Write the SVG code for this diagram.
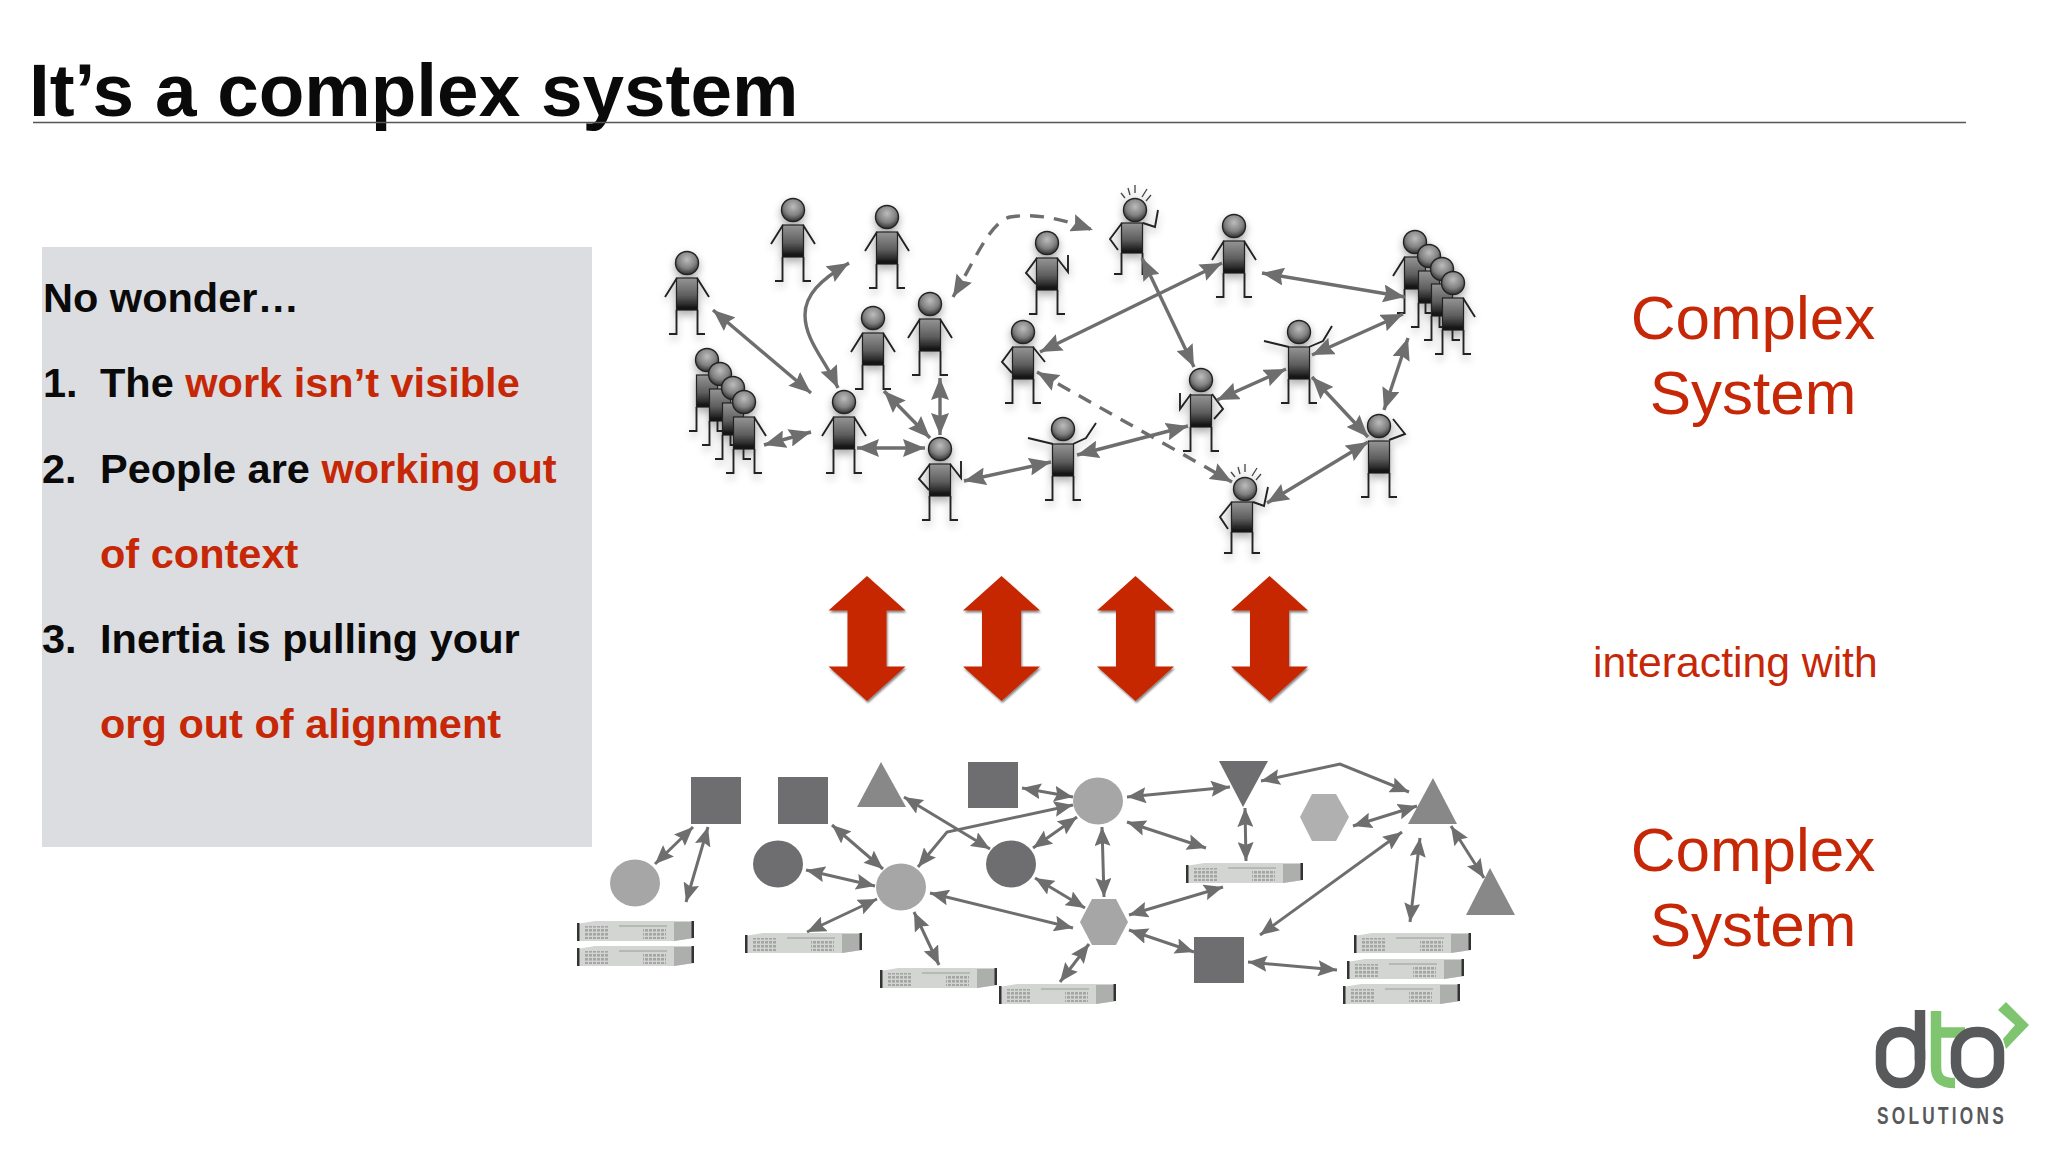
<svg xmlns="http://www.w3.org/2000/svg" width="2048" height="1152" viewBox="0 0 2048 1152">
<style>
text{font-family:"Liberation Sans",Arial,sans-serif}
.title{font-size:74.700px;font-weight:700;fill:#0a0a0a}
.pt{font-size:41.5px;font-weight:700;fill:#0a0a0a}
.r{fill:#c62706}
.big{font-size:62px;fill:#c62706;text-anchor:middle}
.mid{font-size:42.7px;fill:#c62706}
.c{fill:none;stroke:#6e6e6e;stroke-width:3.4;marker-start:url(#ah);marker-end:url(#ah)}
.d{stroke-dasharray:14 10;marker-start:url(#ah);marker-end:url(#ah)}
.b{fill:none;stroke:#6e6e6e;stroke-width:3;marker-start:url(#ab);marker-end:url(#ab)}
.l{fill:none;stroke:#222;stroke-width:1.9}
.sp{fill:none;stroke:#444;stroke-width:1.3}
.p{filter:url(#sh)}
.ra{fill:#c62706;filter:url(#rs)}
.dk{fill:#6e6e70}
.md{fill:#888889}
.lt{fill:#a6a6a7}
.hx{fill:#b0b0b1}
</style>
<defs>
<marker id="ah" markerUnits="userSpaceOnUse" markerWidth="23" markerHeight="18" refX="22" refY="9" orient="auto-start-reverse" viewBox="0 0 23 18"><path d="M0,0L22,9L0,18L3,9Z" fill="#6e6e6e"/></marker>
<marker id="ab" markerUnits="userSpaceOnUse" markerWidth="20" markerHeight="16" refX="19" refY="8" orient="auto-start-reverse" viewBox="0 0 20 16"><path d="M0,0L19,8L0,16L3,8Z" fill="#6e6e6e"/></marker>
<linearGradient id="gb" x1="0" y1="0" x2="0" y2="1"><stop offset="0" stop-color="#959595"/><stop offset=".55" stop-color="#5e5e5e"/><stop offset="1" stop-color="#0a0a0a"/></linearGradient>
<radialGradient id="gh" cx=".5" cy=".35" r=".65"><stop offset="0" stop-color="#bcbcbc"/><stop offset=".6" stop-color="#808080"/><stop offset="1" stop-color="#303030"/></radialGradient>
<filter id="sh" x="-40%" y="-20%" width="180%" height="150%"><feGaussianBlur in="SourceAlpha" stdDeviation="4"/><feOffset dy="4"/><feComponentTransfer><feFuncA type="linear" slope=".35"/></feComponentTransfer><feMerge><feMergeNode/><feMergeNode in="SourceGraphic"/></feMerge></filter>
<filter id="rs" x="-20%" y="-10%" width="140%" height="125%"><feGaussianBlur in="SourceAlpha" stdDeviation="1.2"/><feOffset dy="1.5" dx=".5"/><feComponentTransfer><feFuncA type="linear" slope=".5"/></feComponentTransfer><feMerge><feMergeNode/><feMergeNode in="SourceGraphic"/></feMerge></filter>
<circle id="hd" cx="0" cy="0" r="11.5" fill="url(#gh)" stroke="#222" stroke-width="1.4"/>
<g id="bd"><path class="l" d="M-18,71H-10.5V47M18,71H10.5V47"/><rect x="-10.5" y="15" width="21" height="32" fill="url(#gb)" stroke="#222" stroke-width="1.2"/></g>
<g id="bd2"><path class="l" d="M-18,64H-10.5V43M18,64H10.5V43"/><rect x="-10.5" y="13" width="21" height="30" fill="url(#gb)" stroke="#222" stroke-width="1.2"/></g>
<path id="an" class="l" d="M-10,15L-22,34M10,15L22,34"/>
<g id="sparks"><path class="sp" d="M-14,-17L-10,-12M-7,-22L-5,-15M0,-25V-17M12,-21L7,-13M16,-15L11,-9"/></g>
<pattern id="dots" width="4" height="4" patternUnits="userSpaceOnUse"><rect width="3" height="2.6" fill="#a3a6a3"/></pattern>
<g id="srv">
<path d="M0,3L18,0H117V17L97,20H0Z" fill="#d3d5d3"/>
<path d="M97,1H117V17L97,20Z" fill="#adafad"/>
<rect x="0" y="2" width="2.5" height="18" fill="#333"/>
<rect x="114.5" y="0" width="2.5" height="17" fill="#333"/>
<rect x="8" y="5" width="23" height="13" fill="url(#dots)"/>
<rect x="66" y="8" width="23" height="10" fill="url(#dots)"/>
<path d="M42,5H90" stroke="#9a9c9a" stroke-width="1"/>
</g>
<path id="dbl" d="M0,-62.500L38.500,-28H19.500V28H38.500L0,62.500L-38.500,28H-19.500V-28H-38.500Z"/>
</defs>
<rect width="2048" height="1152" fill="#fff"/>
<g id="title">
<text class="title" x="29" y="116">It’s a complex system</text>
<path d="M33,122.500H1966" stroke="#555" stroke-width="1.500"/>
</g>
<g id="panel">
<rect x="42" y="247" width="550" height="600" fill="#dcdde0"/>
<text class="pt" x="43" y="312">No wonder…</text>
<text class="pt" x="43" y="397">1.</text><text class="pt" x="100" y="397">The <tspan class="r">work isn’t visible</tspan></text>
<text class="pt" x="42" y="482.500">2.</text><text class="pt" x="100" y="482.500">People are <tspan class="r">working out</tspan></text>
<text class="pt r" x="100" y="567.500">of context</text>
<text class="pt" x="42" y="653">3.</text><text class="pt" x="100" y="653">Inertia is pulling your</text>
<text class="pt r" x="100" y="738">org out of alignment</text>
</g>
<g id="people">
<g id="person-1" class="p" transform="translate(687,263)"><use href="#bd"/><use href="#an"/><use href="#hd"/></g>
<g id="person-2" class="p" transform="translate(793,210)"><use href="#bd"/><use href="#an"/><use href="#hd"/></g>
<g id="person-3" class="p" transform="translate(887,217)"><use href="#bd"/><use href="#an"/><use href="#hd"/></g>
<g id="person-4" class="p" transform="translate(873,318)"><use href="#bd"/><use href="#an"/><use href="#hd"/></g>
<g id="person-5" class="p" transform="translate(930,304)"><use href="#bd"/><use href="#an"/><use href="#hd"/></g>
<g id="person-6" class="p" transform="translate(1047,243)"><use href="#bd"/><path class="l" d="M-10,15L-21,30L-11,41M10,15L21,29V12"/><use href="#hd"/></g>
<g id="person-7" class="p" transform="translate(1023,332)"><use href="#bd"/><path class="l" d="M-10,15L-21,30L-11,41M10,15L22,30"/><use href="#hd"/></g>
<g id="person-8" class="p" transform="translate(844,402)"><use href="#bd"/><use href="#an"/><use href="#hd"/></g>
<g id="person-9" class="p" transform="translate(940,449)"><use href="#bd"/><path class="l" d="M-10,15L-21,30L-11,41M10,15L21,29V12"/><use href="#hd"/></g>
<g id="crowd-left" class="p">
<g transform="translate(707,360)"><use href="#bd"/><use href="#hd"/></g>
<g transform="translate(720,374)"><use href="#bd"/><use href="#hd"/></g>
<g transform="translate(733,388)"><use href="#bd"/><use href="#hd"/></g>
<g transform="translate(744,402)"><use href="#bd"/><path class="l" d="M10,15L22,34"/><use href="#hd"/></g>
</g>
<g id="person-10" class="p" transform="translate(1132,210)"><use href="#bd2"/><path class="l" d="M-10,13L-22,29L-14,40M11,13L23,17L26,0"/><use href="#hd" x="3"/><use href="#sparks" x="3"/></g>
<g id="person-11" class="p" transform="translate(1234,226)"><use href="#bd"/><use href="#an"/><use href="#hd"/></g>
<g id="person-12" class="p" transform="translate(1299,332)"><use href="#bd"/><path class="l" d="M-10,15L-35,9M10,15L24,9L33,-6"/><use href="#hd"/></g>
<g id="person-13" class="p" transform="translate(1201,380)"><use href="#bd"/><path class="l" d="M-10,14L-21,29V13M11,14L22,29L13,39"/><use href="#hd"/></g>
<g id="person-14" class="p" transform="translate(1063,429)"><use href="#bd"/><path class="l" d="M-10,15L-35,9M10,15L23,9L33,-6"/><use href="#hd"/></g>
<g id="person-15" class="p" transform="translate(1379,426)"><use href="#bd"/><path class="l" d="M10,14L26,8L14,-7"/><use href="#hd"/></g>
<g id="person-16" class="p" transform="translate(1242,489)"><use href="#bd2"/><path class="l" d="M-10,13L-22,28L-14,40M11,13L22,17L26,-2"/><use href="#hd" x="3"/><use href="#sparks" x="3"/></g>
<g id="crowd-right" class="p">
<g transform="translate(1415,242)"><use href="#bd"/><path class="l" d="M-10,15L-22,34"/><use href="#hd"/></g>
<g transform="translate(1429,256)"><use href="#bd"/><use href="#hd"/></g>
<g transform="translate(1442,269)"><use href="#bd"/><use href="#hd"/></g>
<g transform="translate(1453,283)"><use href="#bd"/><path class="l" d="M10,15L22,34"/><use href="#hd"/></g>
</g>
</g>
<g id="people-connectors">
<path class="c" d="M713,310L811,393"/>
<path class="c" d="M849,263C820,280 805,295 805,315C805,340 825,360 838,388"/>
<path class="c" d="M764,445L811,432"/>
<path class="c" d="M857,448H925"/>
<path class="c" d="M884,391L930,438"/>
<path class="c" d="M940,378V435"/>
<path class="c" d="M964,481L1051,462"/>
<path class="c d" d="M953,297C975,260 990,222 1010,217C1040,212 1070,222 1093,230"/>
<path class="c" d="M1040,352L1222,263"/>
<path class="c" d="M1142,258L1194,367"/>
<path class="c" d="M1262,273L1405,297"/>
<path class="c" d="M1312,355L1403,314"/>
<path class="c" d="M1217,400L1286,369"/>
<path class="c" d="M1312,377L1368,437"/>
<path class="c" d="M1408,338L1384,410"/>
<path class="c" d="M1077,455L1188,426"/>
<path class="c" d="M1267,503L1368,442"/>
<path class="c d" d="M1037,372L1232,482"/>
</g>
<g id="interaction-arrows">
<use class="ra" href="#dbl" x="867" y="638.500"/>
<use class="ra" href="#dbl" x="1001.500" y="638.500"/>
<use class="ra" href="#dbl" x="1135.500" y="638.500"/>
<use class="ra" href="#dbl" x="1269.500" y="638.500"/>
</g>
<g id="labels">
<text class="big" x="1753" y="339">Complex</text>
<text class="big" x="1753" y="414">System</text>
<text class="mid" x="1593" y="677">interacting with</text>
<text class="big" x="1753" y="871">Complex</text>
<text class="big" x="1753" y="946">System</text>
</g>
<g id="systems">
<rect id="sq-1" class="dk" x="691" y="777" width="50" height="47"/>
<rect id="sq-2" class="dk" x="778" y="777" width="50" height="47"/>
<rect id="sq-3" class="dk" x="968" y="762" width="50" height="46"/>
<rect id="sq-4" class="dk" x="1194" y="937" width="50" height="46"/>
<path id="tri-1" class="md" d="M881,762L906,807H857Z"/>
<path id="tri-2" class="md" d="M1433,778L1457,824H1408Z"/>
<path id="tri-3" class="md" d="M1490,868L1515,915H1466Z"/>
<path id="tri-4" class="dk" d="M1219,761H1268L1243,807Z"/>
<ellipse id="ci-1" class="lt" cx="635" cy="883" rx="25" ry="23.500"/>
<ellipse id="ci-2" class="dk" cx="778" cy="864" rx="25" ry="23.500"/>
<ellipse id="ci-3" class="lt" cx="901" cy="887" rx="25" ry="23.500"/>
<ellipse id="ci-4" class="dk" cx="1011" cy="864" rx="25" ry="23.500"/>
<ellipse id="ci-5" class="lt" cx="1098" cy="801" rx="25" ry="23.500"/>
<path id="hex-1" class="hx" d="M1312,794H1336L1349,817L1336,841H1312L1300,817Z"/>
<path id="hex-2" class="lt" d="M1092,899H1116L1128,922L1116,945H1092L1080,922Z"/>
<use id="srv-1" href="#srv" x="577" y="921"/>
<use id="srv-2" href="#srv" x="577" y="946"/>
<use id="srv-3" href="#srv" x="745" y="933"/>
<use id="srv-4" href="#srv" x="880" y="968"/>
<use id="srv-5" href="#srv" x="999" y="984"/>
<use id="srv-6" href="#srv" x="1186" y="863"/>
<use id="srv-7" href="#srv" x="1354" y="933"/>
<use id="srv-8" href="#srv" x="1347" y="959"/>
<use id="srv-9" href="#srv" x="1343" y="984"/>
</g>
<g id="system-connectors">
<path class="b" d="M693,827L655,864"/>
<path class="b" d="M708,827L686,902"/>
<path class="b" d="M832,825L883,869"/>
<path class="b" d="M806,870L875,886"/>
<path class="b" d="M877,899L807,932"/>
<path class="b" d="M914,912L939,965"/>
<path class="b" d="M930,893L1073,928"/>
<path class="b" d="M904,797L990,849"/>
<path class="b" d="M918,867L947,832L1073,805"/>
<path class="b" d="M1022,788L1073,797"/>
<path class="b" d="M1033,848L1077,817"/>
<path class="b" d="M1035,878L1085,908"/>
<path class="b" d="M1127,797L1230,787"/>
<path class="b" d="M1127,822L1206,848"/>
<path class="b" d="M1102,827L1104,897"/>
<path class="b" d="M1245,808L1246,861"/>
<path class="b" d="M1129,915L1223,887"/>
<path class="b" d="M1129,930L1194,952"/>
<path class="b" d="M1089,944L1060,982"/>
<path class="b" d="M1248,962L1337,970"/>
<path class="b" d="M1260,935L1402,832"/>
<path class="b" d="M1420,838L1410,922"/>
<path class="b" d="M1451,826L1484,878"/>
<path class="b" d="M1353,826L1417,806"/>
<path class="b" d="M1261,781L1340,764L1409,792"/>
</g>
<g id="logo">
<path d="M1936,1011V1067C1936,1079 1942,1083 1955,1083" fill="none" stroke="#7fc46f" stroke-width="10.500"/>
<path d="M1931,1032.500H1965" fill="none" stroke="#7fc46f" stroke-width="10.500"/>
<rect x="1881" y="1032" width="39" height="51" rx="19" fill="none" stroke="#58595b" stroke-width="10.500"/>
<path d="M1920,1010V1060" fill="none" stroke="#58595b" stroke-width="10.500"/>
<rect x="1956" y="1032" width="43" height="51" rx="20" fill="none" stroke="#58595b" stroke-width="10.500"/>
<path d="M2006,1002L2029,1025L2006,1049L2003,1039L2015,1025L1998,1010Z" fill="#7fc46f"/>
<text transform="translate(1877,1124) scale(.72,1)" x="0" y="0" font-size="24" font-weight="700" fill="#58595b" textLength="176" lengthAdjust="spacing">SOLUTIONS</text>
</g>
</svg>
